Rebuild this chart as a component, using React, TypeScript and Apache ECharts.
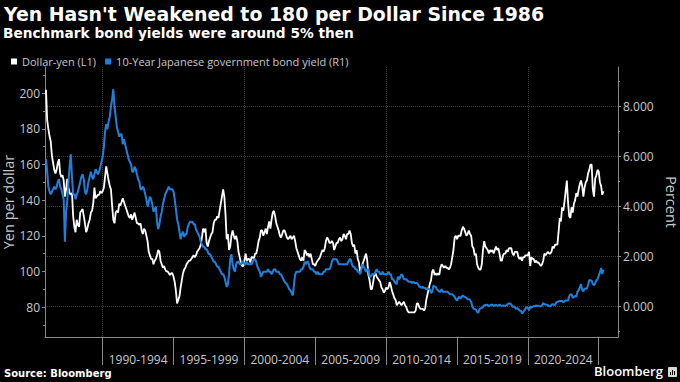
import React, { useEffect, useRef } from 'react';
import * as echarts from 'echarts';

const startYear = 1986;

const usdJpy = [
  202, 185, 180, 176, 173, 165, 161, 157, 155, 157, 161, 163,
  155, 153, 154, 151, 142, 146, 152, 147, 144, 143, 144, 131,
  125, 122, 129, 126, 125, 133, 134, 135, 131, 127, 122, 124,
  127, 129, 133, 134, 138, 147, 141, 142, 143, 143, 145, 144,
  145, 147, 153, 159, 155, 151, 148, 146, 137, 129, 127, 133,
  134, 133, 138, 137, 139, 141, 139, 137, 135, 133, 131, 130,
  132, 129, 131, 133, 130, 127, 127, 126, 127, 123, 121, 124,
  123, 120, 117, 111, 109, 107, 107, 104, 106, 107, 109, 112,
  111, 106, 104, 102, 103, 101, 100, 100, 99, 98, 99, 99,
  97, 94, 89, 82, 84, 86, 91, 95, 99, 101, 102, 104,
  105, 106, 106, 107, 108, 109, 108, 109, 111, 112, 113, 115,
  119, 124, 122, 124, 116, 114, 117, 119, 121, 122, 127, 129,
  129, 131, 130, 134, 138, 142, 146, 142, 132, 118, 121, 112,
  114, 120, 123, 120, 118, 120, 117, 111, 108, 105, 103, 103,
  106, 110, 106, 107, 107, 105, 108, 108, 107, 110, 110, 113,
  117, 119, 123, 123, 120, 122, 124, 121, 125, 128, 124, 129,
  133, 134, 131, 127, 125, 123, 120, 119, 121, 123, 123, 121,
  119, 118, 119, 120, 118, 119, 120, 117, 113, 111, 109, 107,
  106, 108, 106, 112, 111, 109, 110, 108, 110, 107, 104, 104,
  103, 105, 106, 107, 108, 110, 112, 111, 113, 117, 119, 118,
  116, 116, 117, 116, 112, 114, 116, 116, 118, 119, 117, 118,
  121, 120, 118, 121, 121, 123, 121, 116, 114, 115, 110, 112,
  107, 105, 99, 102, 104, 106, 108, 110, 106, 98, 95, 90,
  90, 94, 98, 99, 97, 96, 95, 94, 91, 90, 88, 89,
  91, 90, 91, 94, 92, 89, 87, 85, 84, 81, 82, 83,
  82, 81, 82, 83, 81, 80, 78, 77, 77, 77, 77, 77,
  77, 78, 82, 82, 80, 79, 79, 79, 78, 79, 84, 87,
  90, 93, 95, 100, 101, 98, 99, 98, 99, 98, 102, 104,
  103, 102, 103, 102, 102, 101, 102, 104, 108, 112, 119, 120,
  118, 120, 120, 120, 123, 125, 124, 122, 120, 121, 123, 121,
  120, 114, 113, 109, 110, 104, 102, 101, 101, 104, 112, 117,
  114, 113, 112, 110, 112, 111, 112, 110, 112, 114, 112, 113,
  110, 106, 106, 109, 110, 110, 112, 111, 113, 113, 113, 110,
  109, 111, 111, 111, 108, 107, 108, 106, 108, 108, 109, 109,
  109, 111, 103, 108, 107, 107, 105, 106, 105, 105, 104, 103,
  104, 106, 110, 109, 110, 111, 110, 110, 111, 114, 113, 115,
  115, 115, 122, 130, 128, 136, 134, 139, 145, 151, 139, 131,
  130, 136, 133, 138, 140, 144, 142, 146, 149, 151, 148, 142,
  147, 150, 151, 155, 157, 160, 160, 146, 142, 152, 154, 157,
  156, 150, 148, 143, 145,
];

const jgb10y = [
  5.9, 5.4, 4.8, 4.6, 4.5, 4.6, 4.7, 4.8, 4.7, 4.8, 5.0, 5.1,
  4.8, 4.7, 4.5, 4.3, 2.6, 3.8, 4.2, 5.0, 5.6, 6.1, 5.2, 4.5,
  4.5, 4.3, 4.5, 4.6, 4.8, 5.0, 5.2, 5.3, 5.1, 4.6, 4.5, 4.7,
  5.0, 5.2, 5.4, 5.2, 5.1, 5.3, 5.5, 5.4, 5.3, 5.4, 5.6, 5.8,
  6.0, 6.4, 7.0, 7.3, 7.1, 7.4, 7.6, 8.0, 8.3, 8.7, 8.0, 7.6,
  7.2, 7.0, 6.8, 6.9, 6.9, 6.5, 6.7, 6.5, 6.3, 6.1, 5.9, 5.8,
  5.7, 5.4, 5.4, 5.6, 5.5, 5.3, 5.1, 5.0, 4.7, 4.7, 4.8, 4.7,
  4.5, 4.3, 4.0, 4.2, 4.4, 4.3, 4.1, 3.8, 3.9, 4.0, 3.4, 3.1,
  3.3, 3.6, 3.8, 4.1, 4.3, 4.5, 4.6, 4.7, 4.8, 4.7, 4.7, 4.7,
  4.6, 4.3, 3.9, 3.5, 3.3, 3.0, 2.7, 2.9, 3.0, 2.8, 2.9, 2.9,
  3.2, 3.3, 3.4, 3.4, 3.4, 3.3, 3.3, 3.1, 3.0, 2.9, 2.8, 2.6,
  2.5, 2.4, 2.4, 2.3, 2.3, 2.2, 2.1, 2.1, 2.0, 1.9, 1.8, 1.8,
  1.7, 1.6, 1.6, 1.5, 1.4, 1.3, 1.3, 1.2, 1.0, 0.8, 0.9, 1.3,
  1.9, 2.1, 1.7, 1.5, 1.4, 1.7, 1.8, 1.8, 1.7, 1.7, 1.8, 1.8,
  1.7, 1.7, 1.8, 1.7, 1.7, 1.7, 1.7, 1.8, 1.9, 1.9, 1.8, 1.6,
  1.5, 1.4, 1.2, 1.3, 1.4, 1.4, 1.4, 1.4, 1.5, 1.4, 1.4, 1.3,
  1.4, 1.5, 1.5, 1.4, 1.4, 1.4, 1.3, 1.3, 1.2, 1.1, 1.0, 0.95,
  0.9, 0.8, 0.7, 0.65, 0.55, 0.45, 0.9, 1.3, 1.4, 1.4, 1.4, 1.4,
  1.5, 1.5, 1.6, 1.8, 1.7, 1.8, 1.8, 1.6, 1.5, 1.5, 1.5, 1.4,
  1.4, 1.3, 1.4, 1.3, 1.3, 1.3, 1.3, 1.4, 1.4, 1.5, 1.5, 1.5,
  1.5, 1.6, 1.8, 1.9, 1.9, 1.9, 1.9, 1.8, 1.7, 1.7, 1.7, 1.7,
  1.7, 1.7, 1.7, 1.7, 1.8, 1.9, 1.9, 1.7, 1.6, 1.6, 1.5, 1.5,
  1.4, 1.4, 1.3, 1.5, 1.7, 1.6, 1.5, 1.4, 1.5, 1.5, 1.2, 1.2,
  1.3, 1.3, 1.3, 1.4, 1.5, 1.4, 1.4, 1.3, 1.3, 1.4, 1.3, 1.3,
  1.3, 1.3, 1.4, 1.3, 1.3, 1.1, 1.1, 1.0, 0.95, 0.9, 1.2, 1.1,
  1.2, 1.3, 1.25, 1.1, 1.1, 1.1, 1.05, 1.0, 1.0, 1.0, 0.95, 1.0,
  0.95, 0.95, 0.95, 0.9, 0.8, 0.8, 0.75, 0.8, 0.75, 0.75, 0.7, 0.75,
  0.7, 0.7, 0.55, 0.6, 0.85, 0.8, 0.8, 0.7, 0.65, 0.6, 0.6, 0.7,
  0.6, 0.6, 0.6, 0.6, 0.6, 0.55, 0.5, 0.5, 0.5, 0.45, 0.4, 0.3,
  0.25, 0.35, 0.4, 0.33, 0.4, 0.45, 0.4, 0.38, 0.35, 0.3, 0.3, 0.27,
  0.2, 0.0, -0.08, -0.1, -0.12, -0.2, -0.25, -0.1, -0.07, -0.05, 0.0, 0.05,
  0.07, 0.08, 0.07, 0.02, 0.05, 0.08, 0.08, 0.02, 0.06, 0.07, 0.04, 0.05,
  0.08, 0.05, 0.04, 0.05, 0.04, 0.04, 0.06, 0.11, 0.13, 0.13, 0.09, 0.0,
  0.01, -0.03, -0.09, -0.05, -0.1, -0.16, -0.16, -0.27, -0.22, -0.15, -0.08, -0.02,
  -0.04, -0.15, 0.02, -0.04, 0.0, 0.02, 0.02, 0.05, 0.02, 0.04, 0.02, 0.02,
  0.05, 0.15, 0.09, 0.09, 0.08, 0.05, 0.02, 0.02, 0.07, 0.1, 0.07, 0.07,
  0.17, 0.2, 0.21, 0.23, 0.24, 0.23, 0.18, 0.22, 0.25, 0.25, 0.25, 0.42,
  0.49, 0.5, 0.35, 0.39, 0.43, 0.4, 0.6, 0.65, 0.77, 0.9, 0.67, 0.61,
  0.73, 0.71, 0.73, 0.88, 1.07, 1.05, 1.05, 0.91, 0.86, 0.94, 1.05, 1.1,
  1.24, 1.37, 1.55, 1.31, 1.48,
];

const periodTicks = [1990, 1995, 2000, 2005, 2010, 2015, 2020, 2025];
const periodLabels = ['1990-1994', '1995-1999', '2000-2004', '2005-2009', '2010-2014', '2015-2019', '2020-2024'];
const decadeLines = [1990, 2000, 2010, 2020];
const leftTicks = [80, 100, 120, 140, 160, 180, 200];
const leftMinorTicks = [70, 90, 110, 130, 150, 170, 190, 210];
const rightTicks = [0, 2, 4, 6, 8];
const rightMinorTicks = [-1, 1, 3, 5, 7, 9];

const seriesNames = ['Dollar-yen (L1)', '10-Year Japanese government bond yield (R1)'];

const AXIS_COLOR = '#8a8a8a';
const LABEL_COLOR = '#c8c8c8';
const GRID_COLOR = '#3c3c3c';
const FONT = '"Open Sans", "DejaVu Sans", sans-serif';

export default function App() {
  const ref = useRef<HTMLDivElement>(null);

  useEffect(() => {
    const chart = echarts.init(ref.current as HTMLDivElement, null, { renderer: 'svg' });

    const xMin = 1985.93;
    const xMax = 2026.36;
    const lMin = 63.16;
    const lMax = 214.76;
    const rMin = -1.212;
    const rMax = 9.588;

    const labelCenters = periodLabels.map((_, i) => periodTicks[i] + 2.5);

    const option: any = {
      animation: false,
      backgroundColor: '#000000',
      grid: {
        left: 45,
        right: 62,
        top: 67,
        bottom: 45,
        containLabel: false,
        outerBoundsMode: 'none',
      },
      legend: {
        left: 6,
        top: 51,
        icon: 'rect',
        itemWidth: 6,
        itemHeight: 6,
        itemGap: 9,
        data: seriesNames,
        textStyle: { color: LABEL_COLOR, fontFamily: FONT, fontSize: 11 },
      },
      xAxis: [
        {
          type: 'value',
          min: xMin,
          max: xMax,
          position: 'bottom',
          axisLine: { show: true, onZero: false, lineStyle: { color: AXIS_COLOR, width: 1 } },
          axisTick: { show: true, length: 28, customValues: periodTicks, lineStyle: { color: AXIS_COLOR } },
          axisLabel: {
            show: true,
            customValues: labelCenters,
            formatter: (v: number) => periodLabels[Math.round((v - labelCenters[0]) / 5)] || '',
            color: LABEL_COLOR,
            fontFamily: FONT,
            fontSize: 12,
            margin: 16,
          },
          splitLine: { show: false },
        },
        {
          type: 'value',
          min: xMin,
          max: xMax,
          position: 'top',
          axisLine: { show: false, onZero: false },
          axisTick: { show: false, customValues: decadeLines },
          axisLabel: { show: false, customValues: decadeLines },
          splitLine: { show: true, lineStyle: { color: GRID_COLOR, type: 'dotted', width: 1 } },
        },
      ],
      yAxis: [
        {
          type: 'value',
          min: lMin,
          max: lMax,
          position: 'left',
          name: 'Yen per dollar',
          nameLocation: 'middle',
          nameRotate: 90,
          nameGap: 29,
          nameMoveOverlap: false,
          nameTextStyle: { color: LABEL_COLOR, fontFamily: FONT, fontSize: 14.5 },
          axisLine: { show: true, onZero: false, lineStyle: { color: AXIS_COLOR, width: 1 } },
          axisTick: { show: true, length: 3, customValues: leftTicks, lineStyle: { color: AXIS_COLOR } },
          axisLabel: {
            show: true,
            customValues: leftTicks,
            color: LABEL_COLOR,
            fontFamily: FONT,
            fontSize: 12,
            margin: 5,
          },
          splitLine: { show: false },
        },
        {
          type: 'value',
          min: rMin,
          max: rMax,
          position: 'right',
          name: 'Percent',
          nameLocation: 'middle',
          nameRotate: -90,
          nameGap: 46,
          nameMoveOverlap: false,
          nameTextStyle: { color: LABEL_COLOR, fontFamily: FONT, fontSize: 14.5 },
          axisLine: { show: true, onZero: false, lineStyle: { color: AXIS_COLOR, width: 1 } },
          axisTick: { show: true, length: 3, customValues: rightTicks, lineStyle: { color: AXIS_COLOR } },
          axisLabel: {
            show: true,
            customValues: rightTicks,
            formatter: (v: number) => v.toFixed(3),
            color: LABEL_COLOR,
            fontFamily: FONT,
            fontSize: 12,
            margin: 5,
          },
          splitLine: { show: true, lineStyle: { color: GRID_COLOR, type: 'dotted', width: 1 } },
        },
        {
          type: 'value',
          min: lMin,
          max: lMax,
          position: 'left',
          axisLine: { show: false, onZero: false },
          axisTick: { show: true, length: 2, customValues: leftMinorTicks, lineStyle: { color: AXIS_COLOR } },
          axisLabel: { show: false, customValues: leftMinorTicks },
          splitLine: { show: false },
        },
        {
          type: 'value',
          min: rMin,
          max: rMax,
          position: 'right',
          axisLine: { show: false, onZero: false },
          axisTick: { show: true, length: 2, customValues: rightMinorTicks, lineStyle: { color: AXIS_COLOR } },
          axisLabel: { show: false, customValues: rightMinorTicks },
          splitLine: { show: false },
        },
      ],
      series: [
        {
          name: seriesNames[0],
          type: 'line',
          xAxisIndex: 0,
          yAxisIndex: 0,
          showSymbol: false,
          symbol: 'none',
          color: '#ffffff',
          lineStyle: { color: '#ffffff', width: 1.8 },
          data: usdJpy.map((v, i) => [startYear + i / 12, v]),
        },
        {
          name: seriesNames[1],
          type: 'line',
          xAxisIndex: 0,
          yAxisIndex: 1,
          showSymbol: false,
          symbol: 'none',
          color: '#1f80dc',
          lineStyle: { color: '#1f80dc', width: 2 },
          data: jgb10y.map((v, i) => [startYear + i / 12, v]),
        },
      ],
      graphic: [
        {
          type: 'text',
          left: 4,
          top: 4,
          style: {
            text: "Yen Hasn't Weakened to 180 per Dollar Since 1986",
            fill: '#ffffff',
            font: 'bold 18.9px "DejaVu Sans", sans-serif',
          },
        },
        {
          type: 'text',
          left: 3,
          top: 26,
          style: {
            text: 'Benchmark bond yields were around 5% then',
            fill: '#ffffff',
            font: 'bold 13.7px "DejaVu Sans", sans-serif',
          },
        },
        {
          type: 'text',
          left: 4,
          top: 368,
          style: {
            text: 'Source: Bloomberg',
            fill: '#ffffff',
            font: 'bold 10px "DejaVu Sans", sans-serif',
          },
        },
        {
          type: 'text',
          left: 594,
          top: 364,
          style: {
            text: 'Bloomberg',
            fill: '#ffffff',
            font: '600 13px "Open Sans", sans-serif',
          },
        },
        {
          type: 'group',
          left: 668,
          top: 367,
          children: [
            { type: 'rect', shape: { x: 0, y: 0, width: 9, height: 10, r: 1 }, style: { fill: '#d8d8d8' } },
            { type: 'rect', shape: { x: 2, y: 5, width: 1, height: 3 }, style: { fill: '#000' } },
            { type: 'rect', shape: { x: 4, y: 3, width: 1, height: 5 }, style: { fill: '#000' } },
            { type: 'rect', shape: { x: 6, y: 4, width: 1, height: 4 }, style: { fill: '#000' } },
          ],
        },
      ],
    };

    chart.setOption(option);
    return () => chart.dispose();
  }, []);

  return (
    <div
      ref={ref}
      style={{ position: 'fixed', left: 0, top: 0, width: 680, height: 382, background: '#000' }}
    />
  );
}
